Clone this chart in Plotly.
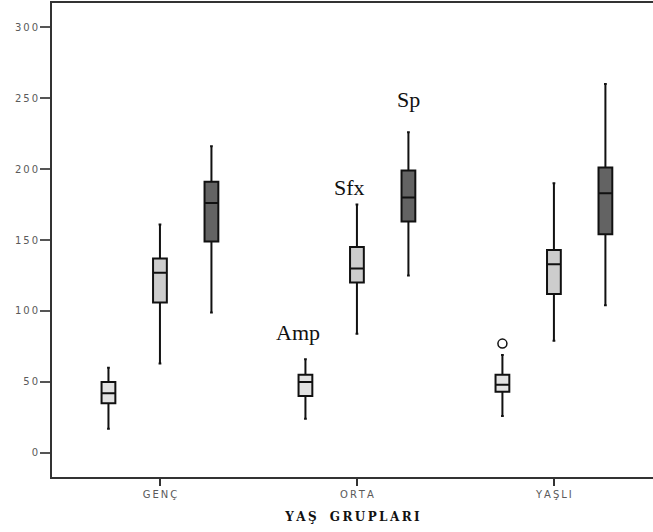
import plotly.graph_objects as go

# ---- data ----
groups = ["GENÇ", "ORTA", "YAŞLI"]
series = ["Amp", "Sfx", "Sp"]

amp_low = [17, 24, 26]
amp_q1 = [35, 40, 43]
amp_med = [42, 50, 48]
amp_q3 = [50, 55, 55]
amp_high = [60, 66, 69]

sfx_low = [63, 84, 79]
sfx_q1 = [106, 120, 112]
sfx_med = [127, 130, 133]
sfx_q3 = [137, 145, 143]
sfx_high = [161, 175, 190]

sp_low = [99, 125, 104]
sp_q1 = [149, 163, 154]
sp_med = [176, 180, 183]
sp_q3 = [191, 199, 201]
sp_high = [216, 226, 260]

outlier_group = ["YAŞLI"]
outlier_series = ["Amp"]
outlier_value = [77]

label_groups = ["ORTA", "ORTA", "ORTA"]
label_values = [85, 187, 249]

y_ticks = [0, 50, 100, 150, 200, 250, 300]
x_title = "YAŞ GRUPLARI"

# ---- styling ----
fills = {"Amp": "#e2e2e2", "Sfx": "#cdcdcd", "Sp": "#636363"}
slot = 0.2614
offsets = {s: (k - 1) * slot for k, s in enumerate(series)}
stats = {
    "Amp": (amp_low, amp_q1, amp_med, amp_q3, amp_high),
    "Sfx": (sfx_low, sfx_q1, sfx_med, sfx_q3, sfx_high),
    "Sp": (sp_low, sp_q1, sp_med, sp_q3, sp_high),
}


def spaced(t, sep="\u2009"):
    words = t.split(" ")
    return ("\u2009\u00a0\u00a0\u2009").join(sep.join(list(w)) for w in words)


fig = go.Figure()
for s in series:
    lo, q1, med, q3, hi = stats[s]
    fig.add_trace(go.Box(
        x=[i + offsets[s] for i in range(len(groups))],
        lowerfence=lo, q1=q1, median=med, q3=q3, upperfence=hi,
        width=0.07, whiskerwidth=0.2,
        fillcolor=fills[s],
        line=dict(color="#111111", width=2),
        boxpoints=False, name=s, showlegend=False,
    ))

fig.add_trace(go.Scatter(
    x=[groups.index(g) + offsets[s] for g, s in zip(outlier_group, outlier_series)],
    y=outlier_value, mode="markers",
    marker=dict(symbol="circle-open", size=9, color="#111111", line=dict(width=1.5)),
    showlegend=False,
))

for s, g, v in zip(series, label_groups, label_values):
    fig.add_annotation(
        x=groups.index(g) + offsets[s], y=v, text=s, showarrow=False,
        xshift=-7 if s != "Sp" else 0,
        font=dict(family="Liberation Serif", size=22, color="#111111"),
    )

tick_font = dict(family="DejaVu Sans", size=10, color="#5a5a5a")
fig.update_layout(
    width=653, height=532,
    margin=dict(l=52, r=0, t=3, b=55),
    paper_bgcolor="white", plot_bgcolor="white",
    xaxis=dict(
        range=[-0.548, 2.503], showgrid=False, zeroline=False,
        tickmode="array", tickvals=list(range(len(groups))),
        ticktext=[spaced(g) for g in groups],
        ticks="outside", ticklen=7, tickwidth=2, tickcolor="#333333",
        tickfont=tick_font,
        showline=True, linecolor="#333333", linewidth=2, mirror=True,
        title=dict(text=spaced(x_title),
                   font=dict(family="DejaVu Serif", size=12, color="#111111", weight="bold"),
                   standoff=14),
    ),
    yaxis=dict(
        range=[-17, 317], showgrid=False, zeroline=False,
        tickmode="array", tickvals=y_ticks,
        ticktext=[spaced(str(v)) for v in y_ticks],
        ticks="outside", ticklen=10, tickwidth=2, tickcolor="#555555",
        tickfont=tick_font,
        showline=True, linecolor="#333333", linewidth=2,
    ),
)

fig.write_html("out.html")
